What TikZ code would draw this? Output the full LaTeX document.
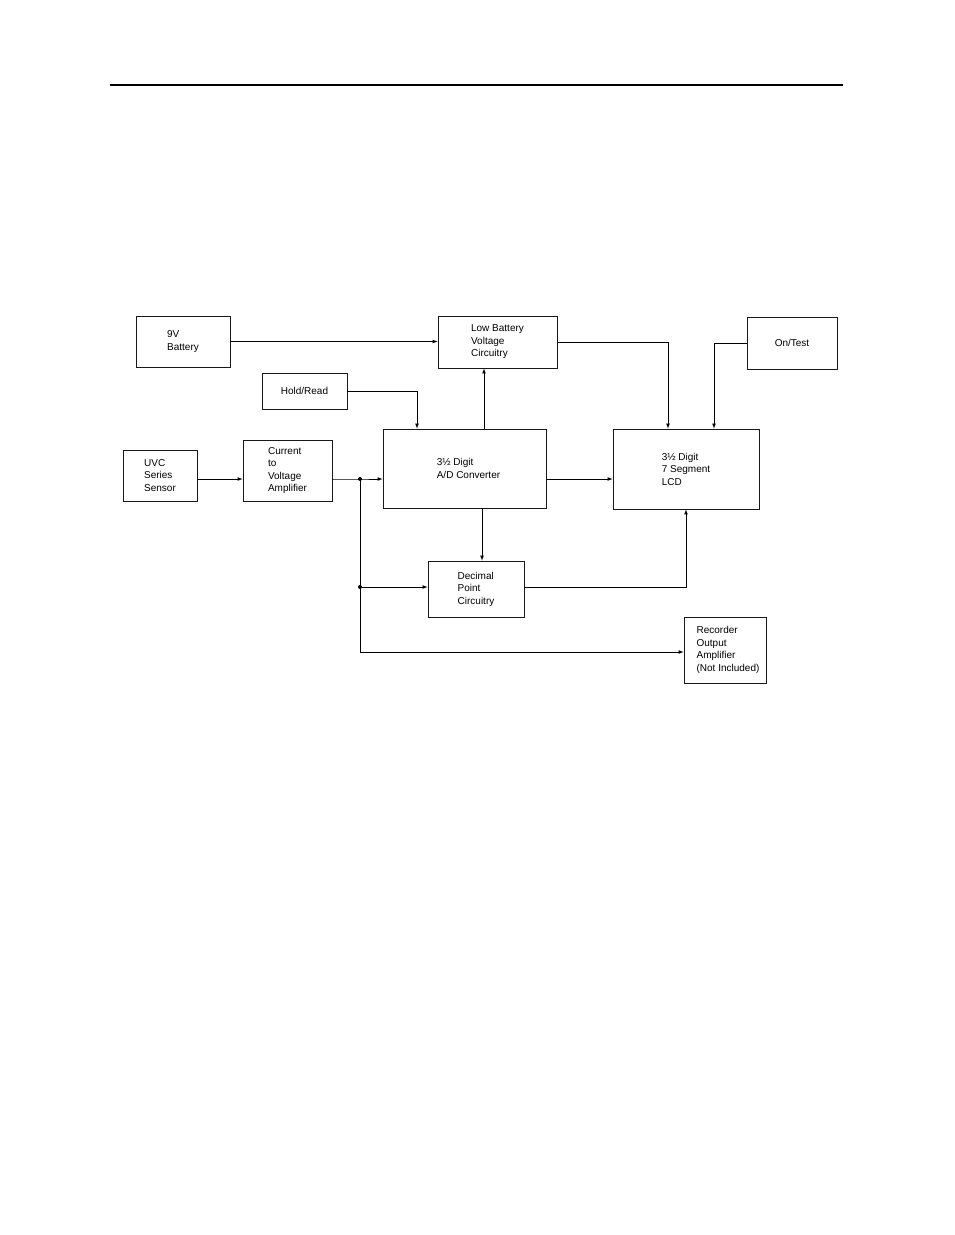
\documentclass[tikz,border=0pt]{standalone}
\usepackage{fontspec}
\setmainfont{Liberation Sans}

\begin{document}
\begin{tikzpicture}[x=1pt,y=-1pt]
\tikzstyle{block}=[rectangle, draw=black!90, line width=0.8pt, align=left, inner sep=0pt, font=\fontsize{10}{12.5}\selectfont]
\tikzstyle{connect}=[-latex, line width=0.7pt]
\tikzstyle{dot}=[circle, fill=black, inner sep=0pt, minimum size=4pt]
\useasboundingbox (0,0) rectangle (954,1235);
% header rule
\draw[line width=1.2pt] (110,85) coordinate (rulel) -- (843,85) coordinate (ruler);
% blocks
\node[block, minimum width=94pt, minimum height=51pt] (batt) at (183,341.5) {9V\\Battery};
\node[block, minimum width=119pt, minimum height=52pt] (lowbatt) at (497.5,342) {Low Battery\\Voltage\\Circuitry};
\node[block, minimum width=85pt, minimum height=36pt] (hold) at (304.5,391) {Hold/Read};
\node[block, minimum width=90pt, minimum height=52pt] (ontest) at (792,343) {On/Test};
\node[block, minimum width=74pt, minimum height=51pt] (uvc) at (160,475.5) {UVC\\Series\\Sensor};
\node[block, minimum width=89pt, minimum height=61pt] (ctov) at (287.5,470.5) {Current\\to\\Voltage\\Amplifier};
\node[block, minimum width=163pt, minimum height=79pt] (adc) at (464.5,468.5) {\hspace{8pt}3½ Digit\\\hspace{8pt}A/D Converter};
\node[block, minimum width=146pt, minimum height=80pt] (lcd) at (686,469) {3½ Digit\\7 Segment\\LCD};
\node[block, minimum width=96pt, minimum height=56pt] (dec) at (476,589) {Decimal\\Point\\Circuitry};
\node[block, minimum width=82pt, minimum height=66pt] (rec) at (725,650) {\hspace{6pt}Recorder\\\hspace{6pt}Output\\\hspace{6pt}Amplifier\\\hspace{6pt}(Not Included)};
% junctions
\node[dot] (j1) at (360,479) {};
\node[dot] (j2) at (360,587) {};
\coordinate (j3) at (360,652);
% connections
\draw[connect] (batt.east) -- (batt.east -| lowbatt.west);
\draw[connect] (hold.east) -| ([xshift=-47.5pt]adc.north);
\draw[connect] ([xshift=19.5pt]adc.north) -- ([xshift=-13.5pt]lowbatt.south);
\draw[connect] (lowbatt.east) -| ([xshift=-18pt]lcd.north);
\draw[connect] (ontest.west) -| ([xshift=28pt]lcd.north);
\draw[connect] (uvc.east |- j1) -- (ctov.west |- j1);
\draw[connect] (ctov.east |- j1) -- (j1.center) -- (adc.west |- j1);
\draw[connect] (adc.east |- j1) -- (lcd.west |- j1);
\draw[connect] ([xshift=17.5pt]adc.south) -- ([xshift=6pt]dec.north);
\draw[line width=0.7pt] (j1.center) -- (j3);
\draw[connect] (j2.center) -- (dec.west |- j2);
\draw[connect] (j3) -- (rec.west |- j3);
\draw[connect] (dec.east |- j2) -| (lcd.south);
\end{tikzpicture}
\end{document}
